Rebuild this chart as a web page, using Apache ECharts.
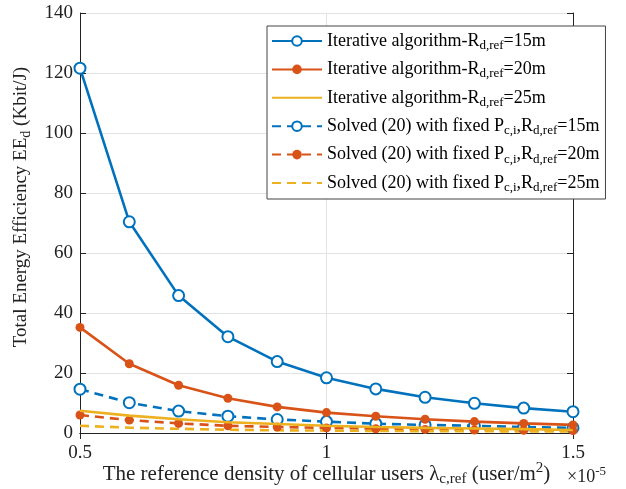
<!DOCTYPE html>
<html>
<head>
<meta charset="utf-8">
<script src="https://cdn.jsdelivr.net/npm/echarts@6/dist/echarts.min.js"></script>
<style>
  html, body { margin: 0; padding: 0; background: #fff; }
  #chart { width: 626px; height: 489px; }
</style>
</head>
<body>
<div id="chart"></div>
<script>
// reference density (x 1e-5)
const lambdaRef = [0.5, 0.6, 0.7, 0.8, 0.9, 1.0, 1.1, 1.2, 1.3, 1.4, 1.5];
const yTicks = [0, 20, 40, 60, 80, 100, 120, 140];

// iterative algorithm
const iter15 = [121.6, 70.4, 45.8, 32.1, 23.8, 18.4, 14.7, 11.9, 9.9, 8.3, 7.1];
const iter20 = [35.2, 23.1, 15.9, 11.6, 8.7, 6.8, 5.6, 4.6, 3.8, 3.2, 2.7];
const iter25 = [7.4, 5.8, 4.6, 3.6, 3.0, 2.4, 2.0, 1.7, 1.5, 1.3, 1.0];

// solved (20) with fixed Pc,i
const fixed15 = [14.6, 10.1, 7.3, 5.6, 4.5, 3.8, 3.1, 2.7, 2.4, 2.0, 1.7];
const fixed20 = [6.0, 4.3, 3.2, 2.4, 2.0, 1.7, 1.4, 1.2, 1.0, 0.9, 0.8];
const fixed25 = [2.4, 1.8, 1.4, 1.1, 0.9, 0.8, 0.7, 0.6, 0.6, 0.5, 0.5];

const BLUE = "#0072BD", ORANGE = "#D95319", YELLOW = "#EDB120";
const FONT = "Liberation Serif";

const pairs = (ys) => lambdaRef.map((x, i) => [x, ys[i]]);

const rich = {
  m: { fontFamily: FONT, fontSize: 18, lineHeight: 22, color: "#000" },
  s: { fontFamily: FONT, fontSize: 13, lineHeight: 13, color: "#000", padding: [9, 0, 0, 0] },
  ax: { fontFamily: FONT, fontSize: 21, color: "#222" },
  axs: { fontFamily: FONT, fontSize: 15, color: "#222", padding: [11, 0, 0, 0] },
  axp: { fontFamily: FONT, fontSize: 15, color: "#222", padding: [0, 0, 11, 0] },
};

const legendText = {
  "iter15": "{m|Iterative algorithm-R}{s|d,ref}{m|=15m}",
  "iter20": "{m|Iterative algorithm-R}{s|d,ref}{m|=20m}",
  "iter25": "{m|Iterative algorithm-R}{s|d,ref}{m|=25m}",
  "fixed15": "{m|Solved (20) with fixed P}{s|c,i}{m|,R}{s|d,ref}{m|=15m}",
  "fixed20": "{m|Solved (20) with fixed P}{s|c,i}{m|,R}{s|d,ref}{m|=20m}",
  "fixed25": "{m|Solved (20) with fixed P}{s|c,i}{m|,R}{s|d,ref}{m|=25m}",
};

function line(name, ys, color, dashed, symbol) {
  return {
    name: name,
    type: "line",
    data: pairs(ys),
    showSymbol: symbol !== "none",
    symbol: symbol === "open" ? "emptyCircle" : (symbol === "fill" ? "circle" : "none"),
    symbolSize: symbol === "open" ? 11 : 9,
    lineStyle: { color: color, width: 2.6, type: dashed ? [9, 6] : "solid" },
    itemStyle: { color: color, borderWidth: symbol === "open" ? 2.2 : 0 },
    animation: false,
    z: dashed ? 2 : 3,
  };
}

const legendData = Object.keys(legendText).map((n) =>
  n.endsWith("25") ? { name: n, itemStyle: { opacity: 0 } } : { name: n });

const chart = echarts.init(document.getElementById("chart"));
chart.setOption({
  backgroundColor: "#fff",
  animation: false,
  grid: { left: 80, right: 53, top: 13, bottom: 56, outerBoundsMode: "none", containLabel: false },
  legend: {
    orient: "vertical",
    left: 267,
    top: 26,
    itemWidth: 50,
    itemHeight: 12,
    itemGap: 6.4,
    padding: [4, 6, 5, 4],
    backgroundColor: "#fff",
    borderColor: "#444",
    borderWidth: 1,
    data: legendData,
    formatter: (n) => legendText[n],
    textStyle: { rich: rich, fontFamily: FONT, fontSize: 18 },
  },
  xAxis: [{
    type: "value",
    min: 0.5, max: 1.5, interval: 0.5,
    axisLine: { lineStyle: { color: "#222", width: 1 } },
    axisTick: { inside: true, length: 6, lineStyle: { color: "#222" } },
    axisLabel: { fontFamily: FONT, fontSize: 19, color: "#222", margin: 11,
      formatter: (v) => (v === 1 ? "1" : String(v)) },
    splitLine: { show: true, lineStyle: { color: "#e3e3e3" } },
    name: "{ax|The reference density of cellular users λ}{axs|c,ref}{ax| (user/m}{axp|2}{ax|)}",
    nameLocation: "middle",
    nameGap: 28,
    nameMoveOverlap: false,
    nameTextStyle: { rich: rich },
  }, {
    type: "value", position: "top",
    min: 0.5, max: 1.5, interval: 0.5,
    axisLine: { show: true, lineStyle: { color: "#222" } },
    axisTick: { show: true, inside: true, length: 6, lineStyle: { color: "#222" } },
    axisLabel: { show: false }, splitLine: { show: false },
  }],
  yAxis: [{
    type: "value",
    min: yTicks[0], max: yTicks[yTicks.length - 1], interval: 20,
    axisLine: { show: true, lineStyle: { color: "#222", width: 1 } },
    axisTick: { show: true, inside: true, length: 6, lineStyle: { color: "#222" } },
    axisLabel: { fontFamily: FONT, fontSize: 19, color: "#222", margin: 7 },
    splitLine: { show: true, lineStyle: { color: "#e3e3e3" } },
  }, {
    type: "value", position: "right",
    min: 0, max: 140, interval: 20,
    axisLine: { show: true, lineStyle: { color: "#222" } },
    axisTick: { show: true, inside: true, length: 6, lineStyle: { color: "#222" } },
    axisLabel: { show: false }, splitLine: { show: false },
  }],
  graphic: [{
    type: "text",
    x: 21, y: 207,
    rotation: Math.PI / 2,
    style: {
      text: "{a|Total Energy Efficiency EE}{b|d}{a| (Kbit/J)}",
      align: "center", verticalAlign: "middle",
      rich: { a: { fontFamily: FONT, fontSize: 19, fill: "#222" },
              b: { fontFamily: FONT, fontSize: 14, fill: "#222", padding: [10, 0, 0, 0] } },
    },
  }, {
    type: "text",
    x: 567, y: 465,
    style: {
      text: "{a|×10}{b|-5}",
      rich: { a: { fontFamily: FONT, fontSize: 18, fill: "#222" },
              b: { fontFamily: FONT, fontSize: 13, fill: "#222", padding: [0, 0, 12, 0] } },
    },
  }],
  series: [
    line("iter15", iter15, BLUE, false, "open"),
    line("iter20", iter20, ORANGE, false, "fill"),
    line("iter25", iter25, YELLOW, false, "none"),
    line("fixed15", fixed15, BLUE, true, "open"),
    line("fixed20", fixed20, ORANGE, true, "fill"),
    line("fixed25", fixed25, YELLOW, true, "none"),
  ],
});
</script>
</body>
</html>
